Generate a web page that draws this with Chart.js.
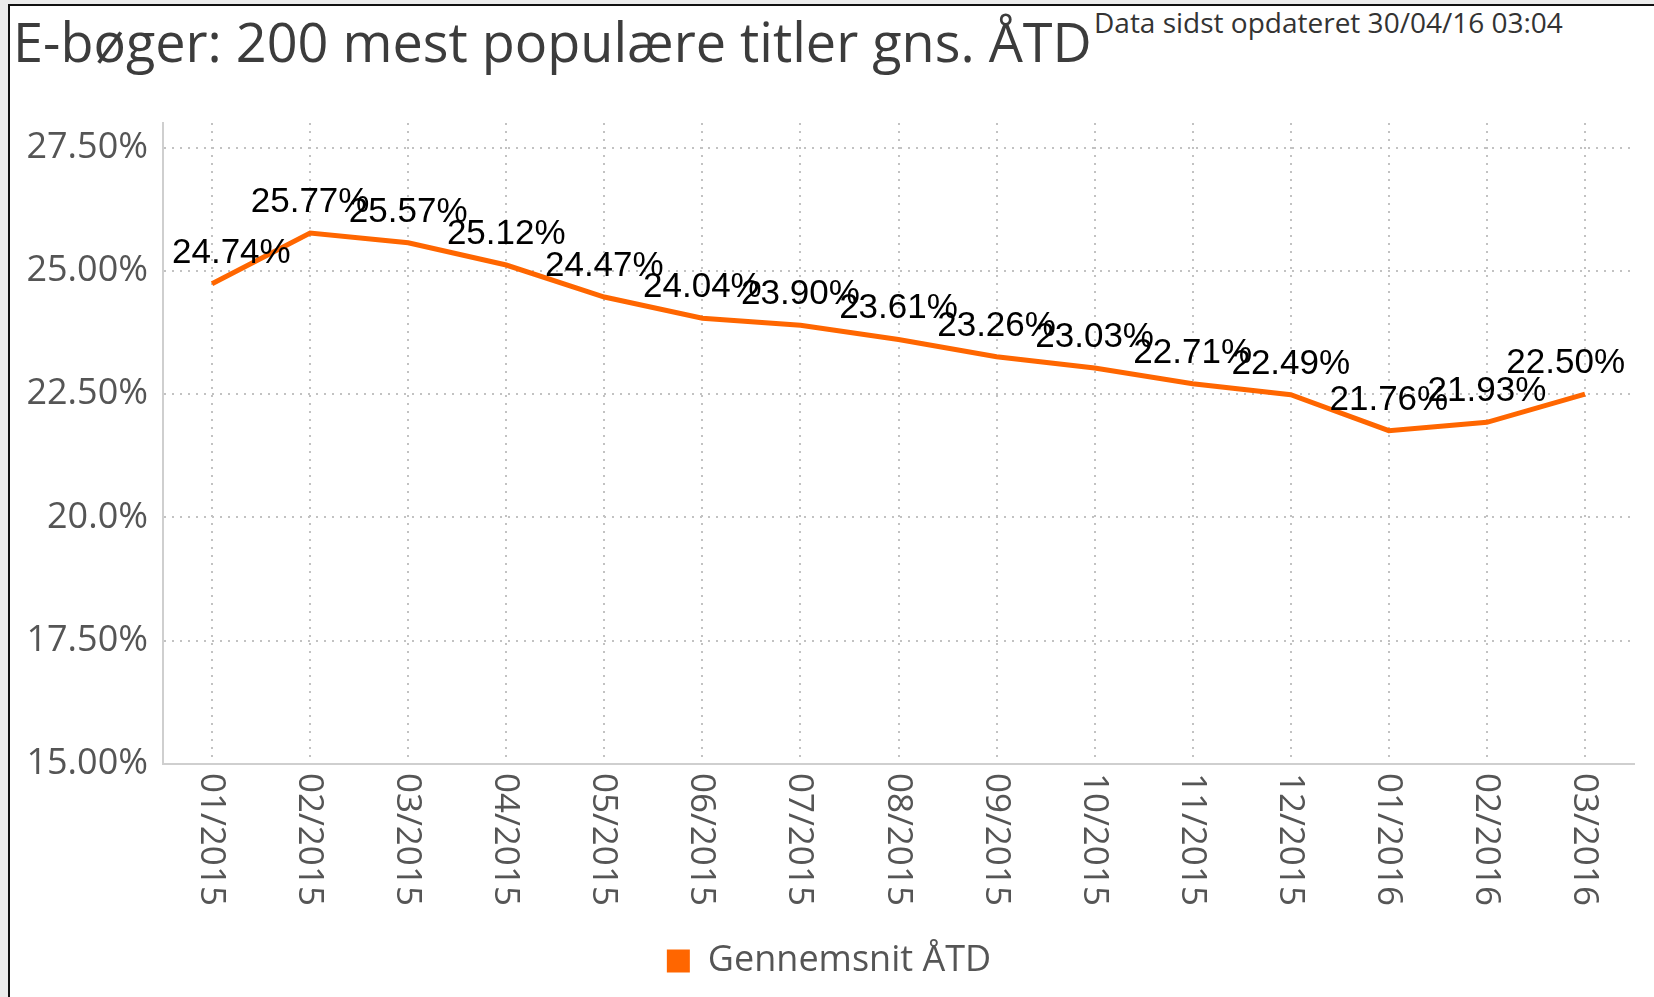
<!DOCTYPE html>
<html>
<head>
<meta charset="utf-8">
<script src="https://cdn.jsdelivr.net/npm/chart.js@4"></script>
<style>
  html, body { margin: 0; padding: 0; }
  body { width: 1654px; height: 997px; background: #ececec; position: relative; overflow: hidden; }
  #frame { position: absolute; left: 8px; top: 4px; right: 0; bottom: 0; background: #fff;
           border-left: 2px solid #111; border-top: 2px solid #111; }
  #title { position: absolute; left: 13px; top: 5px; font-family: "Open Sans"; font-size: 54px;
           color: #3c3c3c; white-space: nowrap; line-height: 72px; }
  #updated { position: absolute; left: 1094px; top: 4px; font-family: "Open Sans"; font-size: 28px;
             color: #333; white-space: nowrap; line-height: 36px; }
  canvas { position: absolute; left: 0; top: 0; }
</style>
</head>
<body>
<div id="frame"></div>
<div id="title">E-bøger: 200 mest populære titler gns. ÅTD</div>
<div id="updated">Data sidst opdateret 30/04/16 03:04</div>
<canvas id="chart-line-atd" width="1654" height="997"></canvas>
<script>
var months = ["01/2015", "02/2015", "03/2015", "04/2015", "05/2015", "06/2015", "07/2015", "08/2015",
  "09/2015", "10/2015", "11/2015", "12/2015", "01/2016", "02/2016", "03/2016"];
var avg_atd = [24.74, 25.77, 25.57, 25.12, 24.47, 24.04, 23.90, 23.61, 23.26, 23.03, 22.71, 22.49, 21.76, 21.93, 22.50];
var y_tick_values = [15, 17.5, 20, 22.5, 25, 27.5];
var y_tick_labels = ["15.00%", "17.50%", "20.0%", "22.50%", "25.00%", "27.50%"];

Chart.defaults.font.family = "Open Sans";

// value labels above each point, kept inside the plot area
var pointLabels = {
  id: "pointLabels",
  afterDatasetsDraw: function (chart) {
    var ctx = chart.ctx;
    var area = chart.chartArea;
    var meta = chart.getDatasetMeta(0);
    ctx.save();
    ctx.font = "35px 'Liberation Sans'";
    ctx.fillStyle = "#000";
    ctx.textAlign = "center";
    ctx.textBaseline = "alphabetic";
    meta.data.forEach(function (pt, i) {
      var text = avg_atd[i].toFixed(2) + "%";
      var w = ctx.measureText(text).width;
      var x = Math.min(Math.max(pt.x, area.left + 9 + w / 2), area.right - 9 - w / 2);
      ctx.fillText(text, x, pt.y - 21);
    });
    ctx.restore();
  },
};

// month labels turned to read top to bottom
var monthLabels = {
  id: "monthLabels",
  afterDraw: function (chart) {
    var ctx = chart.ctx;
    var xs = chart.scales.x;
    ctx.save();
    ctx.font = "35px 'Open Sans'";
    ctx.fillStyle = "#555";
    ctx.textAlign = "left";
    ctx.textBaseline = "alphabetic";
    months.forEach(function (m, i) {
      ctx.save();
      ctx.translate(xs.getPixelForValue(i) - 11, chart.chartArea.bottom + 9);
      ctx.rotate(Math.PI / 2);
      ctx.fillText(m, 0, 0);
      ctx.restore();
    });
    ctx.restore();
  },
};

var ctx = document.getElementById("chart-line-atd").getContext("2d");

new Chart(ctx, {
  type: "line",
  data: {
    labels: months,
    datasets: [
      {
        label: "Gennemsnit ÅTD",
        data: avg_atd,
        borderColor: "#ff6600",
        backgroundColor: "#ff6600",
        borderWidth: 5,
        pointRadius: 0,
        tension: 0,
      },
    ],
  },
  options: {
    responsive: false,
    animation: false,
    layout: {
      padding: { top: 123, right: 20, bottom: 8, left: 24 },
    },
    plugins: {
      legend: {
        position: "bottom",
        labels: {
          boxWidth: 23,
          boxHeight: 23,
          padding: 10,
          color: "#555",
          font: { size: 36, family: "Open Sans" },
          generateLabels: function (chart) {
            return Chart.defaults.plugins.legend.labels.generateLabels(chart).map(function (l) {
              l.lineWidth = 0;
              return l;
            });
          },
        },
      },
      tooltip: { enabled: false },
    },
    scales: {
      x: {
        offset: true,
        afterFit: function (scale) {
          scale.height = 169;
        },
        grid: {
          display: true,
          drawTicks: false,
          color: "#c2c2c2",
          lineWidth: 2,
        },
        border: {
          display: true,
          color: "#cfcfcf",
          width: 2,
          dash: [2, 6],
        },
        ticks: { display: false },
      },
      y: {
        min: 15,
        max: 28,
        afterBuildTicks: function (scale) {
          scale.ticks = y_tick_values.map(function (v) {
            return { value: v };
          });
        },
        afterFit: function (scale) {
          scale.width = 139;
        },
        grid: {
          drawTicks: false,
          color: "#c2c2c2",
          lineWidth: 2,
        },
        border: {
          display: true,
          color: "#cfcfcf",
          width: 2,
          dash: [2, 6],
        },
        ticks: {
          padding: 15,
          color: "#555",
          font: { size: 36, family: "Open Sans" },
          callback: function (value) {
            return y_tick_labels[y_tick_values.indexOf(value)];
          },
        },
      },
    },
  },
  plugins: [pointLabels, monthLabels],
});
</script>
</body>
</html>
